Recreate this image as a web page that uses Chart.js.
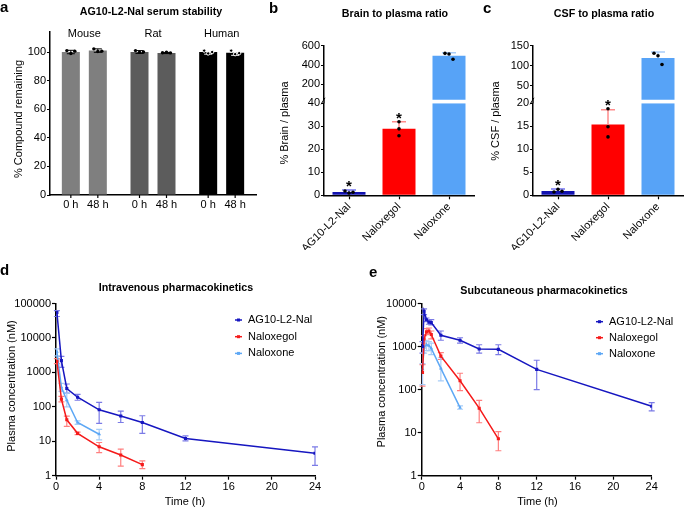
<!DOCTYPE html>
<html><head><meta charset="utf-8">
<script src="https://cdn.jsdelivr.net/npm/chart.js@4.4.1/dist/chart.umd.min.js"></script>
<style>
html,body{margin:0;padding:0;background:#fff;}
#wrap{position:relative;width:685px;height:510px;overflow:hidden;background:#fff;}
canvas{position:absolute;}
</style></head><body>
<div id="wrap">
<canvas id="ca" width="265" height="230" style="left:0;top:0"></canvas>
<canvas id="cb" width="245" height="250" style="left:230px;top:0"></canvas>
<canvas id="cc" width="210" height="250" style="left:475px;top:0"></canvas>
<canvas id="cd" width="352" height="260" style="left:0;top:250px"></canvas>
<canvas id="ce" width="333" height="260" style="left:352px;top:250px"></canvas>
</div>
<script>
// ---------- DATA ----------
// Panel a: serum stability (% compound remaining)
const speciesLabels = ['Mouse', 'Rat', 'Human'];
const timeLabels = ['0 h', '48 h'];
const stab0h = [100, 100, 100];
const stab48h = [101, 99.3, 99.5];
const stab0hSd = [1.2, 1.0, 1.5];
const stab48hSd = [1.2, 0.4, 1.8];
const stab0hReps = [[101, 99, 100.6], [101, 99.8, 100], [101, 99, 100]];
const stab48hReps = [[102.2, 100.4, 100.6], [99.5, 99.8, 99.4], [101, 98.5, 99.2]];
const stabTicks = [0, 20, 40, 60, 80, 100];

// Panels b, c
const compounds = ['AG10-L2-Nal', 'Naloxegol', 'Naloxone'];
const brainMean = [1.4, 28.9, 495];
const brainSd = [0.9, 3.1, 32];
const brainReps = [[1.9, 1.0, 1.3], [32, 28.9, 25.9], [521, 514, 459]];
const brainSig = [true, true, false];
const brainLowTicks = [0, 10, 20, 30, 40];
const brainHighTicks = [200, 400, 600];
const csfMean = [0.96, 15.4, 119];
const csfSd = [0.4, 3.2, 15];
const csfReps = [[0.72, 1.3, 0.87], [18.8, 14.9, 12.7], [131, 125, 103]];
const csfSig = [true, true, false];
const csfLowTicks = [0, 5, 10, 15, 20];
const csfHighTicks = [50, 100, 150];

// Panel d: intravenous PK (time h, conc nM, [low, high] error)
const ivAgTime = [0.083, 0.5, 1, 2, 4, 6, 8, 12, 24];
const ivAgConc = [55000, 2200, 340, 190, 82, 54, 35, 12, 4.5];
const ivAgErr = [[42000, 62000], [1400, 2900], [250, 460], [155, 230], [33, 134], [35, 75], [17, 55], [10.3, 14.4], [2, 6.9]];
const ivNgTime = [0.083, 0.5, 1, 2, 4, 6, 8];
const ivNgConc = [2100, 167, 42, 17, 6.9, 4.0, 2.1];
const ivNgErr = [[1800, 2500], [140, 200], [27, 54], [15.5, 18.5], [4.7, 9.2], [1.9, 5.9], [1.6, 2.7]];
const ivNxTime = [0.083, 0.5, 1, 2, 4];
const ivNxConc = [4000, 370, 156, 35, 16];
const ivNxErr = [[3000, 4800], [280, 480], [100, 250], [31, 39], [11, 22]];
const ivTicks = [1, 10, 100, 1000, 10000, 100000];

// Panel e: subcutaneous PK
const scAgTime = [0.083, 0.25, 0.5, 0.75, 1, 2, 4, 6, 8, 12, 24];
const scAgConc = [1000, 6600, 4200, 3700, 3600, 1830, 1400, 880, 860, 295, 41];
const scAgErr = [[700, 1300], [5500, 7500], [3800, 4600], [3300, 4100], [3200, 4200], [1400, 2300], [1200, 1600], [700, 1100], [650, 1100], [100, 480], [32, 50]];
const scNgTime = [0.083, 0.25, 0.5, 0.75, 1, 2, 4, 6, 8];
const scNgConc = [250, 1500, 2200, 2300, 1900, 600, 160, 37, 7.2];
const scNgErr = [[120, 380], [1200, 1800], [1900, 2600], [2000, 2700], [1500, 2300], [500, 720], [95, 240], [17, 56], [3.8, 10.6]];
const scNxTime = [0.083, 0.25, 0.5, 0.75, 1, 2, 4];
const scNxConc = [300, 950, 1100, 1050, 900, 310, 38];
const scNxErr = [[130, 400], [700, 1300], [800, 1400], [800, 1300], [650, 1200], [160, 550], [35, 42]];
const scTicks = [1, 10, 100, 1000, 10000];
const timeTicks = [0, 4, 8, 12, 16, 20, 24];
const seriesNames = ['AG10-L2-Nal', 'Naloxegol', 'Naloxone'];

// ---------- STYLE ----------
const FONT = '"Liberation Sans", Arial, Helvetica, sans-serif';
Chart.defaults.font.family = FONT;
Chart.defaults.font.size = 11;
Chart.defaults.color = '#000';
Chart.defaults.animation = false;
Chart.defaults.responsive = false;
Chart.defaults.plugins.legend.display = false;
Chart.defaults.plugins.tooltip.enabled = false;

const speciesColors = ['#7f7f7f', '#5c5c5c', '#000000'];
const compoundColors = ['#1212b0', '#ff0000', '#57a3f7'];
const compoundErrColors = ['#7474f2', '#ff8c8c', '#a9cdf9'];
const lineColors = ['#1616c0', '#f51a1a', '#5ea8f5'];
const lineErrColors = ['#7b7be6', '#ff8080', '#a8cdf7'];
const dotSpread = [[-4, 0, 4], [0, 0, 0], [-4, 0, 4]];

const fixW = w => s => { s.width = w; };
const fixH = h => s => { s.height = h; };
const setTicks = arr => s => { s.ticks = arr.map(v => ({value: v})); };
const border = {display: true, color: '#000', width: 1.5};
const tickGrid = len => ({display: true, drawOnChartArea: false, drawTicks: true, tickLength: len, tickWidth: 1.2, tickColor: '#000', color: '#000', offset: false});

const textPlugin = {
  id: 'texts',
  afterDraw(chart, args, opts) {
    const ctx = chart.ctx;
    (opts.items || []).forEach(it => {
      ctx.save();
      ctx.font = it.font || ('11px ' + FONT);
      ctx.fillStyle = it.color || '#000';
      ctx.textAlign = it.align || 'center';
      ctx.textBaseline = it.baseline || 'middle';
      ctx.translate(it.x, it.y);
      if (it.rot) ctx.rotate(it.rot);
      ctx.fillText(it.text, 0, 0);
      ctx.restore();
    });
  }
};
const B = 'bold 10.7px ' + FONT;
const L = 'bold 15px ' + FONT;
const T = '11px ' + FONT;
const V = -Math.PI / 2;

// ---------- PANEL a ----------
const stabPlugin = {
  id: 'stabExtras',
  afterDatasetsDraw(chart) {
    const ctx = chart.ctx, y = chart.scales.y;
    const means = [stab0h, stab48h], sds = [stab0hSd, stab48hSd], reps = [stab0hReps, stab48hReps];
    ctx.save();
    [0, 1].forEach(d => {
      chart.getDatasetMeta(d).data.forEach((bar, i) => {
        const col = i === 2 ? '#fff' : '#000';
        const yt = y.getPixelForValue(means[d][i] + sds[d][i]);
        const yb = y.getPixelForValue(means[d][i] - sds[d][i]);
        ctx.strokeStyle = col; ctx.lineWidth = 1;
        ctx.beginPath();
        ctx.moveTo(bar.x, yt); ctx.lineTo(bar.x, yb);
        ctx.moveTo(bar.x - 4, yt); ctx.lineTo(bar.x + 4, yt);
        ctx.moveTo(bar.x - 4, yb); ctx.lineTo(bar.x + 4, yb);
        ctx.stroke();
        reps[d][i].forEach((v, k) => {
          ctx.beginPath();
          ctx.arc(bar.x + [-4, 0, 4][k], y.getPixelForValue(v), 1.7, 0, 2 * Math.PI);
          if (i === 2) { ctx.fillStyle = '#000'; ctx.fill(); ctx.strokeStyle = '#fff'; ctx.stroke(); }
          else { ctx.fillStyle = '#000'; ctx.fill(); }
        });
      });
    });
    ctx.restore();
  },
  afterDraw(chart) {
    const ctx = chart.ctx, a = chart.chartArea;
    ctx.save();
    ctx.strokeStyle = '#000'; ctx.lineWidth = 1.2; ctx.fillStyle = '#000';
    ctx.font = T; ctx.textAlign = 'center'; ctx.textBaseline = 'middle';
    chart.data.datasets.forEach((ds, d) => {
      chart.getDatasetMeta(d).data.forEach(bar => {
        ctx.beginPath(); ctx.moveTo(bar.x, a.bottom); ctx.lineTo(bar.x, a.bottom + 3); ctx.stroke();
        ctx.fillText(ds.label, bar.x, a.bottom + 10);
      });
    });
    const m0 = chart.getDatasetMeta(0).data, m1 = chart.getDatasetMeta(1).data;
    chart.data.labels.forEach((lab, i) => ctx.fillText(lab, (m0[i].x + m1[i].x) / 2, a.top + 2));
    ctx.restore();
  }
};

new Chart(document.getElementById('ca'), {
  type: 'bar',
  data: {
    labels: speciesLabels,
    datasets: [
      {label: timeLabels[0], data: stab0h, backgroundColor: speciesColors, categoryPercentage: 0.786, barPercentage: 0.667},
      {label: timeLabels[1], data: stab48h, backgroundColor: speciesColors, categoryPercentage: 0.786, barPercentage: 0.667}
    ]
  },
  options: {
    layout: {padding: {left: 0, right: 9, top: 32, bottom: 0}},
    scales: {
      x: {border, grid: {display: false}, ticks: {display: false}, afterFit: fixH(35)},
      y: {min: 0, max: 114, border, grid: tickGrid(3), ticks: {padding: 1, autoSkip: false}, afterBuildTicks: setTicks(stabTicks), afterFit: fixW(50)}
    },
    plugins: {texts: {items: [
      {text: 'a', x: 0, y: 12, font: L, align: 'left', baseline: 'alphabetic'},
      {text: 'AG10-L2-Nal serum stability', x: 151, y: 12, font: B},
      {text: '% Compound remaining', x: 19, y: 119, font: T, rot: V}
    ]}}
  },
  plugins: [textPlugin, stabPlugin]
});

// ---------- PANELS b, c ----------
function ratioPlugin(mean, sd, reps, sig, lowMax) {
  return {
    id: 'ratioExtras',
    afterDatasetsDraw(chart) {
      const ctx = chart.ctx, low = chart.scales.yLow, high = chart.scales.yHigh;
      const py = v => v > lowMax ? high.getPixelForValue(v) : low.getPixelForValue(v);
      ctx.save();
      chart.getDatasetMeta(0).data.forEach((bar, i) => {
        const x = bar.x, y0 = py(mean[i]), y1 = py(mean[i] + sd[i]);
        ctx.strokeStyle = compoundErrColors[i]; ctx.lineWidth = 1.5;
        ctx.beginPath(); ctx.moveTo(x, y0); ctx.lineTo(x, y1);
        ctx.moveTo(x - 7, y1); ctx.lineTo(x + 7, y1); ctx.stroke();
        ctx.fillStyle = '#000';
        reps[i].forEach((v, k) => {
          ctx.beginPath(); ctx.arc(x + dotSpread[i][k], py(v), 1.8, 0, 2 * Math.PI); ctx.fill();
        });
        if (sig[i]) {
          ctx.font = 'bold 15px ' + FONT; ctx.textAlign = 'center'; ctx.textBaseline = 'alphabetic';
          ctx.fillText('*', x, Math.min(y1, py(Math.max(...reps[i]))) + 1);
        }
      });
      // axis continues through the break, with a slash marker
      const left = chart.chartArea.left;
      ctx.strokeStyle = '#000'; ctx.lineWidth = 1.5;
      ctx.beginPath(); ctx.moveTo(left, high.bottom); ctx.lineTo(left, low.top); ctx.stroke();
      ctx.lineWidth = 1;
      ctx.beginPath(); ctx.moveTo(left - 3, low.top + 1); ctx.lineTo(left + 1, high.bottom - 2); ctx.stroke();
      ctx.restore();
    }
  };
}

function ratioChart(id, mean, sd, reps, sig, lowTicks, highTicks, highMin, yw, padRight, texts) {
  const lowMax = lowTicks[lowTicks.length - 1];
  const ys = {position: 'left', stack: 'brk', border, grid: tickGrid(3), ticks: {padding: 1, autoSkip: false}, afterFit: fixW(yw)};
  new Chart(document.getElementById(id), {
    type: 'bar',
    data: {
      labels: compounds,
      datasets: [
        {data: mean.map(v => Math.min(v, lowMax)), yAxisID: 'yLow', backgroundColor: compoundColors, grouped: false, categoryPercentage: 0.8, barPercentage: 0.825},
        {data: mean.map(v => v > lowMax ? v : null), yAxisID: 'yHigh', backgroundColor: compoundColors, grouped: false, categoryPercentage: 0.8, barPercentage: 0.825}
      ]
    },
    options: {
      layout: {padding: {left: 0, right: padRight, top: 45.7, bottom: 0}},
      scales: {
        x: {border, grid: tickGrid(4), ticks: {minRotation: 45, maxRotation: 45, autoSkip: false, padding: 1}, afterFit: fixH(54.7)},
        yLow: Object.assign({}, ys, {type: 'linear', min: 0, max: lowMax, stackWeight: 92, afterBuildTicks: setTicks(lowTicks)}),
        yGap: {type: 'linear', position: 'left', stack: 'brk', stackWeight: 3.5, min: 0, max: 1, border: {display: false}, grid: {display: false}, ticks: {display: false}, afterFit: fixW(yw)},
        yHigh: Object.assign({}, ys, {type: 'linear', min: highMin, max: highTicks[highTicks.length - 1], stackWeight: 54.1, afterBuildTicks: setTicks(highTicks)})
      },
      plugins: {texts: {items: texts}}
    },
    plugins: [textPlugin, ratioPlugin(mean, sd, reps, sig, lowMax)]
  });
}

ratioChart('cb', brainMean, brainSd, brainReps, brainSig, brainLowTicks, brainHighTicks, 40, 94, 1, [
  {text: 'b', x: 39, y: 12.7, font: L, align: 'left', baseline: 'alphabetic'},
  {text: 'Brain to plasma ratio', x: 165, y: 14, font: B},
  {text: '% Brain / plasma', x: 55, y: 123, font: T, rot: V}
]);
ratioChart('cc', csfMean, csfSd, csfReps, csfSig, csfLowTicks, csfHighTicks, 15, 58, 2, [
  {text: 'c', x: 8, y: 12.5, font: L, align: 'left', baseline: 'alphabetic'},
  {text: 'CSF to plasma ratio', x: 129, y: 14, font: B},
  {text: '% CSF / plasma', x: 21, y: 121, font: T, rot: V}
]);

// ---------- PANELS d, e ----------
const pkErrPlugin = {
  id: 'pkErr',
  beforeDatasetsDraw(chart) {
    const ctx = chart.ctx, y = chart.scales.y;
    chart.data.datasets.forEach((ds, d) => {
      const meta = chart.getDatasetMeta(d);
      ctx.save(); ctx.strokeStyle = lineErrColors[d]; ctx.lineWidth = 1.2;
      ds.errors.forEach((e, j) => {
        const p = meta.data[j]; if (!p) return;
        const yl = y.getPixelForValue(e[0]), yh = y.getPixelForValue(e[1]);
        ctx.beginPath();
        ctx.moveTo(p.x, yl); ctx.lineTo(p.x, yh);
        ctx.moveTo(p.x - 3, yl); ctx.lineTo(p.x + 3, yl);
        ctx.moveTo(p.x - 3, yh); ctx.lineTo(p.x + 3, yh);
        ctx.stroke();
      });
      ctx.restore();
    });
  }
};
const pkLegend = {
  id: 'pkLegend',
  afterDraw(chart, args, opts) {
    const ctx = chart.ctx;
    ctx.save();
    chart.data.datasets.forEach((ds, d) => {
      const y = opts.y + d * opts.dy;
      ctx.strokeStyle = ds.borderColor; ctx.fillStyle = ds.borderColor; ctx.lineWidth = 1.5;
      ctx.beginPath(); ctx.moveTo(opts.x, y); ctx.lineTo(opts.x + 7, y); ctx.stroke();
      ctx.fillRect(opts.x + 2, y - 1.5, 3, 3);
      ctx.fillStyle = '#000'; ctx.font = T; ctx.textAlign = 'left'; ctx.textBaseline = 'middle';
      ctx.fillText(ds.label, opts.x + 13, y);
    });
    ctx.restore();
  }
};
const pts = (t, c) => t.map((x, i) => ({x, y: c[i]}));
const pointStyles = ['rect', 'rect', 'triangle'];

function pkChart(id, series, yMax, yTicks, yw, padRight, legend, texts) {
  new Chart(document.getElementById(id), {
    type: 'line',
    data: {datasets: series.map((s, d) => ({
      label: seriesNames[d], data: pts(s[0], s[1]), errors: s[2],
      borderColor: lineColors[d], backgroundColor: lineColors[d], borderWidth: 1.5,
      pointStyle: pointStyles[d], pointRadius: 2.2, pointBorderWidth: 0, tension: 0
    }))},
    options: {
      layout: {padding: {left: 0, right: padRight, top: 53.5, bottom: 0}},
      scales: {
        x: {type: 'linear', min: 0, max: 24, border, grid: tickGrid(4), ticks: {padding: 1, autoSkip: false}, afterBuildTicks: setTicks(timeTicks), afterFit: fixH(34.3)},
        y: {type: 'logarithmic', min: 1, max: yMax, border, grid: tickGrid(4), ticks: {padding: 1, autoSkip: false, callback: v => String(v)}, afterBuildTicks: setTicks(yTicks), afterFit: fixW(yw)}
      },
      plugins: {texts: {items: texts}, pkLegend: legend}
    },
    plugins: [textPlugin, pkErrPlugin, pkLegend]
  });
}

pkChart('cd', [[ivAgTime, ivAgConc, ivAgErr], [ivNgTime, ivNgConc, ivNgErr], [ivNxTime, ivNxConc, ivNxErr]],
  100000, ivTicks, 56, 37, {x: 235, y: 70, dy: 16.7}, [
  {text: 'd', x: 0, y: 25, font: L, align: 'left', baseline: 'alphabetic'},
  {text: 'Intravenous pharmacokinetics', x: 176, y: 38, font: B},
  {text: 'Time (h)', x: 185, y: 252, font: T},
  {text: 'Plasma concentration (nM)', x: 12, y: 136, font: T, rot: V}
]);
pkChart('ce', [[scAgTime, scAgConc, scAgErr], [scNgTime, scNgConc, scNgErr], [scNxTime, scNxConc, scNxErr]],
  10000, scTicks, 69.7, 33.3, {x: 244, y: 71.7, dy: 16}, [
  {text: 'e', x: 17, y: 26.5, font: L, align: 'left', baseline: 'alphabetic'},
  {text: 'Subcutaneous pharmacokinetics', x: 192, y: 40.7, font: B},
  {text: 'Time (h)', x: 185.5, y: 252, font: T},
  {text: 'Plasma concentration (nM)', x: 30, y: 131.7, font: T, rot: V}
]);
</script>
</body></html>
